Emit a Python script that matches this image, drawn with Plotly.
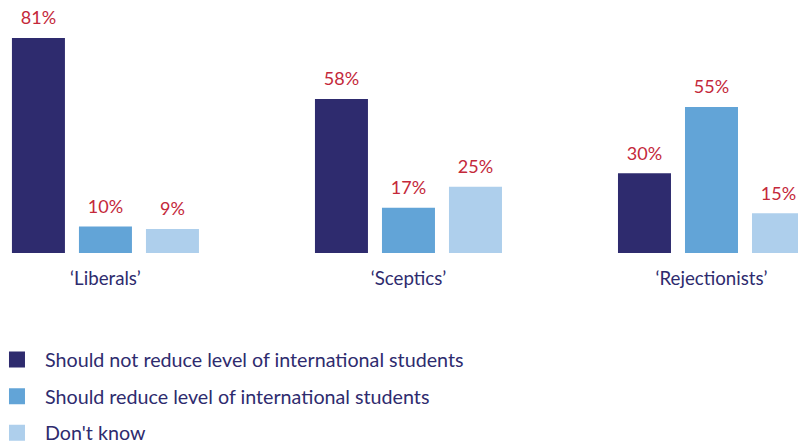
import plotly.graph_objects as go

categories = ["‘Liberals’", "‘Sceptics’", "‘Rejectionists’"]
series_names = [
    "Should not reduce level of international students",
    "Should reduce level of international students",
    "Don't know",
]
not_reduce = [81, 58, 30]
reduce = [10, 17, 55]
dont_know = [9, 25, 15]
series_values = [not_reduce, reduce, dont_know]
colors = ["#2E2B6E", "#62A4D7", "#AECFEC"]

FONT = "Lato"
label_red = "#C4283A"
navy = "#2E2B6E"

fig = go.Figure()
for i, (name, vals, col) in enumerate(zip(series_names, series_values, colors)):
    fig.add_trace(go.Bar(
        x=categories, y=vals, name=name, offsetgroup=str(i),
        marker=dict(color=col, line=dict(width=0)),
        showlegend=False, hoverinfo="skip",
    ))
    fig.add_trace(go.Scatter(
        x=categories, y=vals, offsetgroup=str(i),
        mode="markers+text",
        marker=dict(size=13, opacity=0),
        text=[f"{v}%" for v in vals],
        textposition="top center",
        textfont=dict(family=FONT, size=18, color=label_red),
        cliponaxis=False, showlegend=False, hoverinfo="skip",
    ))
    fig.add_trace(go.Scatter(
        x=[None], y=[None], mode="markers", name=name,
        marker=dict(symbol="square", size=16, color=col),
        legendgroup=name, showlegend=True,
    ))

fig.update_layout(
    width=798, height=443,
    margin=dict(l=0, r=0, t=0, b=190, autoexpand=False),
    paper_bgcolor="white", plot_bgcolor="white",
    barmode="group", bargap=0.3366, bargroupgap=0.209,
    scattermode="group", scattergap=0.3366,
    font=dict(family=FONT, size=18, color=navy),
    xaxis=dict(
        range=[-0.348, 2.2855], showgrid=False, zeroline=False, showline=False,
        ticks="", tickfont=dict(family=FONT, size=18.7, color=navy),
        ticklabelstandoff=12,
    ),
    yaxis=dict(range=[0, 95.3], visible=False, showgrid=False, zeroline=False),
    legend=dict(
        x=-0.0138, xanchor="left", y=0.232, yanchor="top", yref="container",
        traceorder="grouped", tracegroupgap=8,
        font=dict(family=FONT, size=19.7, color=navy),
        bgcolor="rgba(0,0,0,0)", itemwidth=46,
    ),
    showlegend=True,
)

fig.write_html(
    "out.html",
    config={"displayModeBar": False},
    post_script="document.body.style.margin='0';",
)
